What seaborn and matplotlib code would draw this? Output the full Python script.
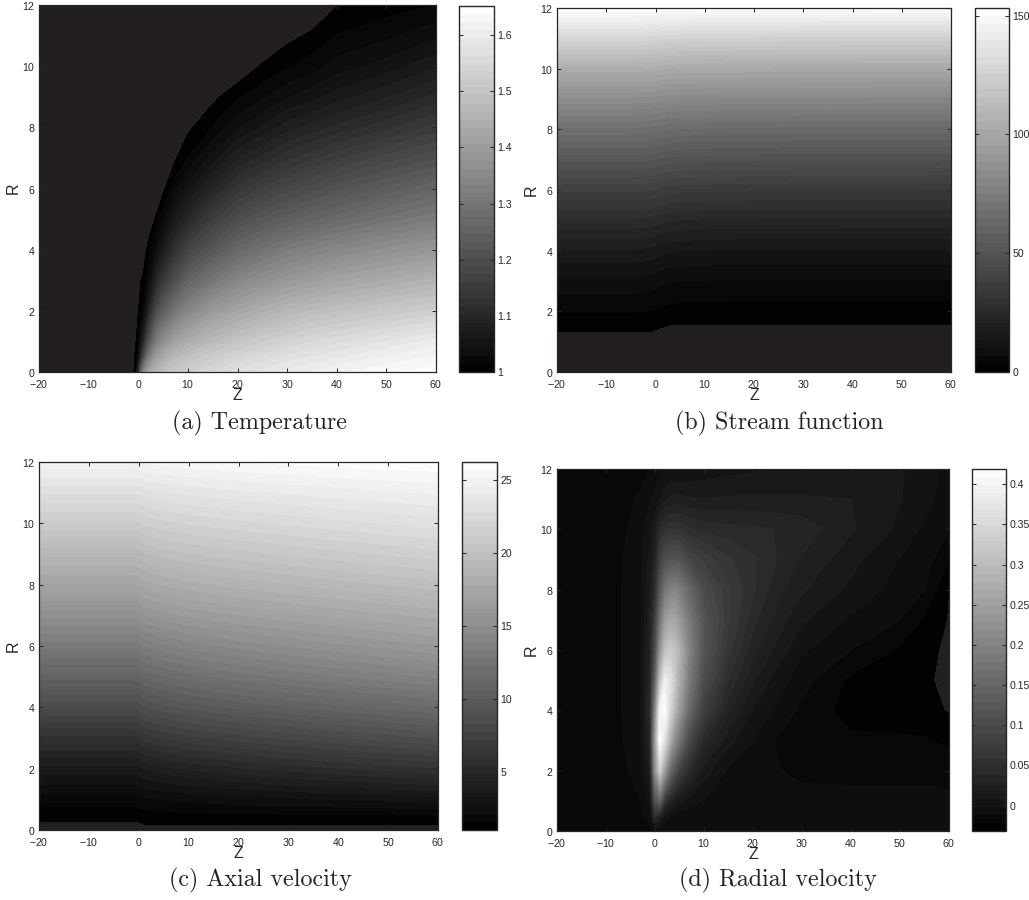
import numpy as np
import matplotlib
matplotlib.use('Agg')
import matplotlib.pyplot as plt
import seaborn as sns

# values, one inner list per z column
TEMP_Z = [-20, -1, -0.5, 0, 0.5, 1, 2, 3.5, 5, 7.5, 10, 15, 20, 25, 30, 35, 40, 50, 60]
TEMP_R = [0, 0.5, 1, 2, 3, 4, 5, 6, 7, 8, 9, 10, 11, 12]
TEMP = [
    [0.90, 0.90, 0.90, 0.90, 0.90, 0.90, 0.90, 0.90, 0.90, 0.90, 0.90, 0.90, 0.90, 0.90],
    [0.995, 0.995, 0.99, 0.98, 0.97, 0.96, 0.95, 0.94, 0.93, 0.92, 0.91, 0.90, 0.90, 0.90],
    [1.015, 1.004, 0.999, 0.98, 0.97, 0.96, 0.95, 0.94, 0.93, 0.92, 0.91, 0.90, 0.90, 0.90],
    [1.12, 1.03, 1.01, 0.999, 0.98, 0.97, 0.96, 0.95, 0.94, 0.93, 0.92, 0.91, 0.90, 0.90],
    [1.25, 1.10, 1.05, 1.01, 0.9995, 0.98, 0.97, 0.96, 0.95, 0.94, 0.93, 0.92, 0.91, 0.90],
    [1.33, 1.18, 1.09, 1.02, 1.004, 0.985, 0.97, 0.96, 0.95, 0.94, 0.93, 0.92, 0.91, 0.90],
    [1.41, 1.30, 1.20, 1.08, 1.02, 1.008, 0.98, 0.97, 0.96, 0.95, 0.94, 0.93, 0.92, 0.91],
    [1.46, 1.39, 1.31, 1.18, 1.09, 1.03, 1.003, 0.97, 0.96, 0.95, 0.94, 0.93, 0.92, 0.91],
    [1.49, 1.43, 1.36, 1.24, 1.14, 1.07, 1.025, 0.995, 0.97, 0.96, 0.95, 0.94, 0.93, 0.92],
    [1.51, 1.47, 1.41, 1.30, 1.20, 1.125, 1.07, 1.025, 0.998, 0.97, 0.96, 0.95, 0.94, 0.93],
    [1.53, 1.49, 1.44, 1.34, 1.25, 1.17, 1.10, 1.05, 1.015, 0.996, 0.97, 0.95, 0.93, 0.92],
    [1.55, 1.52, 1.475, 1.39, 1.30, 1.22, 1.155, 1.095, 1.05, 1.015, 0.995, 0.97, 0.95, 0.93],
    [1.57, 1.54, 1.50, 1.42, 1.34, 1.265, 1.195, 1.135, 1.085, 1.04, 1.012, 0.985, 0.97, 0.95],
    [1.585, 1.555, 1.52, 1.445, 1.365, 1.29, 1.22, 1.16, 1.105, 1.06, 1.025, 1.002, 0.98, 0.96],
    [1.60, 1.57, 1.535, 1.465, 1.385, 1.315, 1.24, 1.18, 1.125, 1.08, 1.042, 1.012, 0.995, 0.97],
    [1.61, 1.58, 1.55, 1.48, 1.40, 1.33, 1.255, 1.195, 1.14, 1.092, 1.052, 1.022, 1.003, 0.985],
    [1.62, 1.59, 1.56, 1.49, 1.415, 1.345, 1.27, 1.21, 1.155, 1.105, 1.065, 1.035, 1.015, 0.999],
    [1.635, 1.61, 1.58, 1.51, 1.435, 1.365, 1.295, 1.235, 1.18, 1.125, 1.085, 1.05, 1.025, 1.007],
    [1.645, 1.625, 1.60, 1.525, 1.455, 1.385, 1.315, 1.26, 1.20, 1.15, 1.105, 1.07, 1.04, 1.015],
]

STREAM_Z = [-20, -5, -1, 1, 3, 6, 15, 30, 60]
STREAM_R = [0, 1, 1.3, 1.56, 2, 3, 4, 5, 6, 7, 8, 9, 10, 11, 12]
STREAM = [
    [-5, -1.5, -0.1, 1.1, 3.6, 9.0, 16.5, 26.5, 38.0, 52.0, 67.0, 84.0, 104.0, 128.0, 153.0],
    [-5, -1.5, -0.1, 1.1, 3.6, 9.0, 16.5, 26.5, 38.0, 52.0, 67.0, 84.0, 104.0, 128.0, 153.0],
    [-5, -1.5, -0.1, 0.9, 3.3, 8.6, 16.0, 26.0, 37.5, 51.5, 66.5, 83.5, 103.5, 127.5, 152.8],
    [-5, -2.0, -0.5, 0.3, 2.6, 7.6, 14.8, 24.8, 36.3, 50.3, 65.5, 82.5, 102.5, 126.5, 152.3],
    [-5, -3.0, -1.0, 0.02, 2.1, 7.0, 14.0, 24.0, 35.5, 49.5, 64.8, 82.0, 102.0, 126.0, 152.0],
    [-5, -3.0, -1.0, 0.01, 1.9, 6.7, 13.6, 23.5, 35.0, 49.0, 64.2, 81.5, 101.5, 125.5, 151.7],
    [-5, -3.0, -1.0, 0.01, 1.8, 6.5, 13.3, 23.0, 34.5, 48.4, 63.6, 81.0, 101.0, 125.0, 151.4],
    [-5, -3.0, -1.0, 0.01, 1.8, 6.5, 13.2, 22.9, 34.2, 48.0, 63.2, 80.7, 100.7, 124.5, 151.0],
    [-5, -3.0, -1.0, 0.01, 1.8, 6.5, 13.2, 22.8, 34.0, 47.8, 63.0, 80.5, 100.5, 124.0, 150.5],
]

AXIAL_Z = [-20, -1, 0, 1, 3, 10, 20, 40, 60]
AXIAL_R = [0, 0.2, 0.27, 0.5, 1, 2, 3, 4, 5, 6, 7, 8, 9, 10, 11, 12]
AXIAL = [
    [0.8, 0.95, 1.06, 1.30, 1.90, 3.60, 5.90, 8.40, 10.80, 13.00, 15.20, 17.20, 19.10, 21.00, 22.90, 25.00],
    [0.8, 0.95, 1.06, 1.30, 1.90, 3.60, 5.90, 8.40, 10.80, 13.00, 15.20, 17.20, 19.10, 21.00, 22.90, 25.00],
    [0.8, 0.97, 1.06, 1.32, 1.92, 3.65, 5.96, 8.46, 10.86, 13.06, 15.26, 17.25, 19.15, 21.04, 22.93, 25.02],
    [0.8, 1.06, 1.13, 1.40, 2.03, 3.89, 6.26, 8.78, 11.18, 13.37, 15.54, 17.51, 19.39, 21.25, 23.10, 25.14],
    [0.8, 1.06, 1.14, 1.45, 2.12, 4.08, 6.50, 9.04, 11.44, 13.62, 15.76, 17.72, 19.58, 21.42, 23.24, 25.24],
    [0.8, 1.06, 1.16, 1.50, 2.31, 4.49, 7.01, 9.58, 11.98, 14.15, 16.24, 18.16, 19.99, 21.78, 23.53, 25.44],
    [0.8, 1.06, 1.18, 1.55, 2.48, 4.87, 7.49, 10.10, 12.50, 14.64, 16.68, 18.58, 20.37, 22.11, 23.80, 25.64],
    [0.8, 1.06, 1.20, 1.60, 2.76, 5.47, 8.24, 10.90, 13.30, 15.42, 17.38, 19.23, 20.97, 22.64, 24.23, 25.94],
    [0.8, 1.06, 1.22, 1.65, 3.00, 6.00, 8.90, 11.60, 14.00, 16.10, 18.00, 19.80, 21.50, 23.10, 24.60, 26.10],
]

RADIAL_Z = [-20, -7, -5.5, -3, -1, 0, 1, 2, 3, 4, 5, 7, 10, 15, 20, 25, 30, 40, 50, 55, 60]
RADIAL_R = [0, 0.5, 1, 2, 3, 4, 5, 6, 7, 8, 9, 10, 11, 12]
RADIAL = [
    [-.016, -.016, -.016, -.016, -.016, -.016, -.016, -.016, -.016, -.016, -.016, -.016, -.016, -.016],
    [-.016, -.016, -.016, -.014, -.012, -.0118, -.0118, -.0118, -.0118, -.0118, -.012, -.012, -.014, -.016],
    [-.016, -.016, -.015, -.0116, -.0105, -.0103, -.0103, -.0103, -.0103, -.0103, -.0105, -.0115, -.013, -.015],
    [-.015, -.013, -.0115, -.006, -.004, -.004, -.004, -.004, -.004, -.004, -.005, -.006, -.0105, -.014],
    [-.013, -.008, .004, .020, .035, .040, .036, .030, .024, .018, .012, .006, -.002, -.0115],
    [-.0105, .050, .110, .215, .240, .200, .140, .100, .075, .050, .033, .018, .000, -.006],
    [-.0105, .030, .140, .330, .415, .395, .300, .220, .165, .120, .080, .042, .008, -.004],
    [-.0105, .005, .060, .240, .360, .415, .390, .300, .240, .170, .105, .052, .016, -.003],
    [-.0105, -.002, .035, .160, .280, .350, .370, .325, .260, .190, .115, .058, .020, -.002],
    [-.0105, -.005, .020, .115, .215, .290, .325, .310, .260, .205, .115, .058, .022, -.002],
    [-.0105, -.007, .012, .080, .170, .240, .270, .280, .235, .190, .115, .056, .022, -.002],
    [-.0105, -.008, .003, .042, .095, .150, .180, .200, .180, .150, .090, .050, .020, .000],
    [-.0105, -.009, -.003, .014, .040, .075, .100, .115, .115, .100, .075, .045, .019, .002],
    [-.0105, -.009, -.007, -.003, .012, .030, .048, .062, .070, .070, .060, .042, .020, .005],
    [-.0105, -.009, -.009, -.008, -.002, .008, .020, .032, .042, .050, .050, .041, .020, .007],
    [-.0105, -.009, -.009, -.0112, -.0125, -.004, .003, .015, .024, .032, .038, .038, .020, .008],
    [-.0105, -.009, -.009, -.0135, -.015, -.014, -.0075, .000, .010, .020, .027, .035, .020, .009],
    [-.0105, -.009, -.009, -.014, -.0195, -.026, -.024, -.0116, -.003, .006, .012, .020, .0185, .009],
    [-.0105, -.009, -.009, -.014, -.0205, -.0255, -.0265, -.0228, -.0116, -.0065, -.002, .006, .009, .0095],
    [-.0105, -.009, -.009, -.014, -.0205, -.028, -.0305, -.029, -.0235, -.0116, -.006, -.004, .002, .004],
    [-.0105, -.0105, -.0105, -.0135, -.0245, -.0325, -.0335, -.0335, -.0325, -.0318, -.0216, -.0116, -.007, -.005],
]

TEMP_TICKS = [1, 1.1, 1.2, 1.3, 1.4, 1.5, 1.6]
STREAM_TICKS = [0, 50, 100, 150]
AXIAL_TICKS = [5, 10, 15, 20, 25]
RADIAL_TICKS = [0, 0.05, 0.1, 0.15, 0.2, 0.25, 0.3, 0.35, 0.4]
Z_TICKS = [-20, -10, 0, 10, 20, 30, 40, 50, 60]
R_TICKS = [0, 2, 4, 6, 8, 10, 12]

W, H = 1029, 900
DARK = '#262626'


def px_rect(x0, y0, x1, y1):
    # pixel box (top-left origin) to figure fractions
    return [x0 / W, 1 - y1 / H, (x1 - x0) / W, (y1 - y0) / H]


def draw_panel(fig, box, cbox, z, r, values, vmin, vmax, cticks, caption, cap_xy):
    ax = fig.add_axes(px_rect(*box))
    ax.set_facecolor('#231f20')  # what the contours leave uncovered
    ax.set_axisbelow(False)  # seaborn puts ticks under the fill otherwise
    levels = np.linspace(vmin, vmax, 46)
    cmap = sns.color_palette('gray', as_cmap=True)
    cf = ax.contourf(z, r, np.array(values).T, levels=levels, cmap=cmap)
    ax.set_xlim(-20, 60)
    ax.set_ylim(0, 12)
    ax.set_xticks(Z_TICKS)
    ax.set_yticks(R_TICKS)
    ax.tick_params(direction='in', top=True, right=True, length=2.8, width=0.7,
                   labelsize=7.6, pad=2.5, colors=DARK)
    ax.tick_params(axis='x', pad=4)
    ax.set_xlabel('Z', fontsize=11.5, color=DARK, labelpad=-1)
    ax.set_ylabel('R', fontsize=11.5, color=DARK, labelpad=1)
    for s in ax.spines.values():
        s.set_linewidth(0.9)
        s.set_color(DARK)

    cax = fig.add_axes(px_rect(*cbox))
    cb = fig.colorbar(cf, cax=cax)
    cb.set_ticks(cticks)
    cb.set_ticklabels([f'{t:g}' for t in cticks])
    cax.set_axisbelow(False)
    cax.tick_params(direction='in', left=True, right=True, length=2.8, width=0.7,
                    labelsize=7.6, pad=2.5, colors=DARK)
    cb.outline.set_linewidth(1.0)
    cb.outline.set_edgecolor(DARK)

    fig.text(cap_xy[0] / W, 1 - cap_xy[1] / H, caption, ha='center', va='center',
             fontsize=17.3, family='cmr10', color='#222222')


sns.set_theme(style='ticks')
plt.rcParams['font.family'] = ['Liberation Sans', 'DejaVu Sans']
plt.rcParams['axes.formatter.use_mathtext'] = True
plt.rcParams['axes.unicode_minus'] = True

fig = plt.figure(figsize=(W / 100, H / 100), dpi=100, facecolor='white')

draw_panel(fig, (39, 5, 436, 372), (459, 6, 494, 372), TEMP_Z, TEMP_R, TEMP,
           1.0, 1.652, TEMP_TICKS, '(a) Temperature', (260, 423))
draw_panel(fig, (557, 8, 951, 372), (975, 8, 1009, 372), STREAM_Z, STREAM_R, STREAM,
           0, 153.2, STREAM_TICKS, '(b) Stream function', (779, 423))
draw_panel(fig, (39, 462, 438, 830), (462, 462, 497, 830), AXIAL_Z, AXIAL_R, AXIAL,
           1.05, 26.2, AXIAL_TICKS, '(c) Axial velocity', (260, 880))
draw_panel(fig, (557, 469, 949, 831), (972, 469, 1006, 831), RADIAL_Z, RADIAL_R, RADIAL,
           -0.0316, 0.419, RADIAL_TICKS, '(d) Radial velocity', (778, 880))

fig.savefig('out.png', dpi=100)
